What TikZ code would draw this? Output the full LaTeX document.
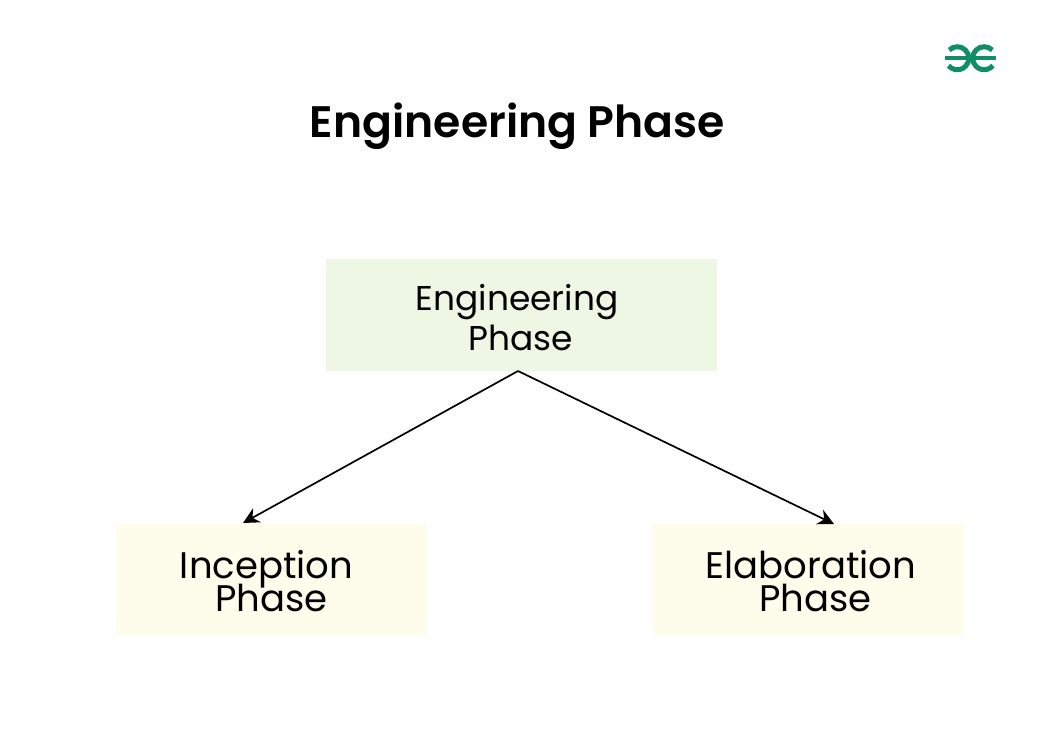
\documentclass[tikz,border=0pt]{standalone}
\usepackage{fontspec}
\setmainfont{Poppins}
\newfontfamily\titlefont{Poppins SemiBold}
\usetikzlibrary{arrows.meta}
\definecolor{topgreen}{HTML}{EEF6E4}
\definecolor{lowyellow}{HTML}{FEFDEB}
\definecolor{gfggreen}{HTML}{0F8F63}
\setlength{\lineskiplimit}{-20pt}
\tikzset{
  phasebox/.style={rectangle, minimum width=#1, minimum height=112pt, inner sep=0pt, align=center},
  bigtext/.style={font=\fontsize{34.4pt}{40pt}\selectfont},
  lowtext/.style={font=\fontsize{37pt}{33pt}\selectfont},
  link/.style={-{Stealth[length=16pt,width=16pt]}, line width=1.7pt},
  logoline/.style={gfggreen, line width=5pt}
}
\begin{document}
\begin{tikzpicture}[x=1pt,y=-1pt]
\useasboundingbox (0,0) rectangle (1043,746);
% Title
\node[font=\fontsize{44.1pt}{50pt}\selectfont\titlefont] (title) at (517.5,126) {Engineering Phase};

% Boxes
\node[phasebox=391pt, fill=topgreen, bigtext] (engineering) at (521,315) {\rule{0pt}{32pt}Engineering\hspace*{8pt}\\Phase};
\node[phasebox=311pt, fill=lowyellow, lowtext] (inception) at (271.5,580) {\rule{0pt}{30pt}Inception\hspace*{10pt}\\Phase};
\node[phasebox=311pt, fill=lowyellow, lowtext] (elaboration) at (808,580) {\rule{0pt}{30pt}\hspace*{6pt}Elaboration\\\hspace*{15pt}Phase};

% Arrows
\coordinate (fork) at (518,371);
\coordinate (leftend) at (243,523);
\coordinate (rightend) at (834,524);
\draw[link] (fork) -- (leftend);
\draw[link] (fork) -- (rightend);

% Logo
\draw[logoline, line width=4pt] (945,58.5) -- (996,58.5);
\draw[logoline] (949.2,50.1) arc (135:-140:11.5pt);
\draw[logoline] (992.3,50.1) arc (45:320:11.5pt);
\end{tikzpicture}
\end{document}
